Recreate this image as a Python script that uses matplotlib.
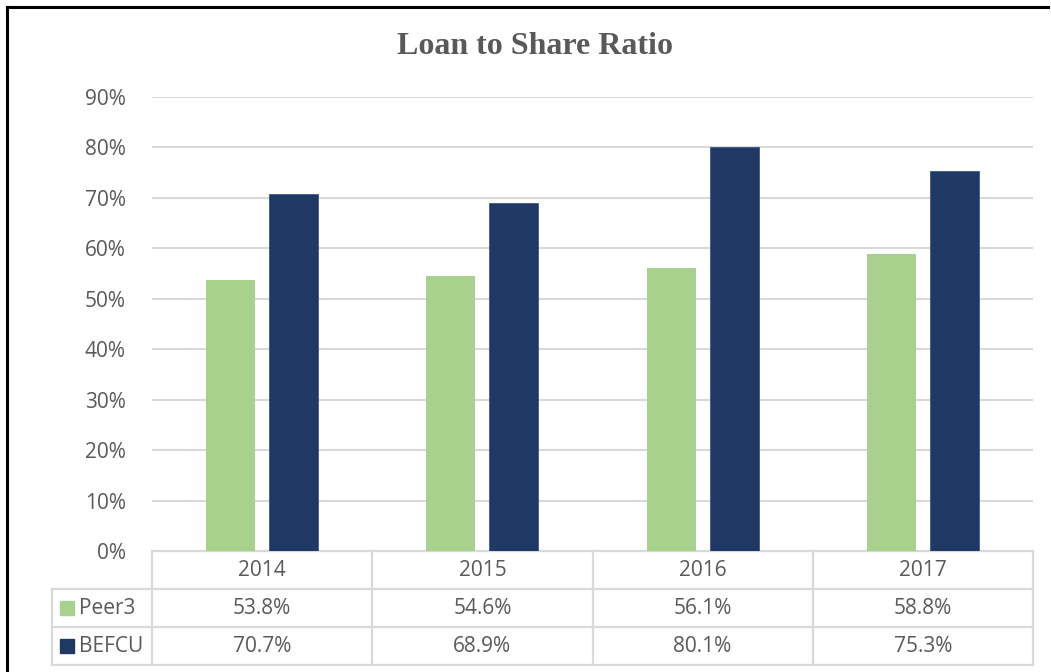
import matplotlib
matplotlib.use("Agg")
import matplotlib.pyplot as plt
from matplotlib.transforms import blended_transform_factory
from matplotlib.lines import Line2D
import numpy as np

years = ["2014", "2015", "2016", "2017"]
peer3 = [53.8, 54.6, 56.1, 58.8]
befcu = [70.7, 68.9, 80.1, 75.3]
series_names = ["Peer3", "BEFCU"]
yticks = [0, 10, 20, 30, 40, 50, 60, 70, 80, 90]

GREEN = "#A9D18E"
NAVY = "#203864"
TXT = "#595959"
GRID = "#D9D9D9"
FS = 15
FONT = "Open Sans"

W, H = 1051, 672
fig = plt.figure(figsize=(W / 100, H / 100), dpi=100)
fig.patch.set_facecolor("white")

left, right, bottom, top = 152, 1033, 551, 97
ax = fig.add_axes([left / W, (H - bottom) / H, (right - left) / W, (bottom - top) / H])

x = np.arange(len(years))
bw = 0.223
off = 0.143
ax.bar(x - off, peer3, bw, color=GREEN, zorder=3)
ax.bar(x + off, befcu, bw, color=NAVY, edgecolor="#3A5A8C", linewidth=0.6, zorder=3)

ax.set_xlim(-0.5, len(years) - 0.5)
ax.set_ylim(0, 90)
ax.set_yticks(yticks)
ax.set_yticklabels([f"{v}%" for v in yticks], fontsize=FS, color=TXT, family=FONT)
ax.tick_params(axis="y", length=0, pad=19)
ax.set_xticks([])
for s in ax.spines.values():
    s.set_visible(False)
ax.yaxis.grid(True, color=GRID, linewidth=1.5, zorder=0)
ax.set_axisbelow(True)

# Data table below the axes
ax_h = bottom - top
row_h = 38 / ax_h
tr = blended_transform_factory(ax.transData, ax.transAxes)
tra = ax.transAxes
lw = 1.6
legend_left = (52 - left) / (right - left)

def hline(x0, x1, y, trans):
    ax.add_line(Line2D([x0, x1], [y, y], transform=trans, color=GRID, lw=lw, clip_on=False))

hline(0, 1, 0, tra)
hline(legend_left, 1, -row_h, tra)
hline(legend_left, 1, -2 * row_h, tra)
hline(legend_left, 1, -3 * row_h, tra)
for b in np.arange(len(years) + 1) - 0.5:
    ax.add_line(Line2D([b, b], [0, -3 * row_h], transform=tr, color=GRID, lw=lw, clip_on=False))
ax.add_line(Line2D([legend_left, legend_left], [-row_h, -3 * row_h], transform=tra,
                   color=GRID, lw=lw, clip_on=False))

for i, yr in enumerate(years):
    ax.text(i, -0.5 * row_h, yr, transform=tr, ha="center", va="center",
            fontsize=FS, color=TXT, family=FONT)
for r, (name, vals, col) in enumerate(zip(series_names, [peer3, befcu], [GREEN, NAVY])):
    yc = -(1.5 + r) * row_h
    for i, v in enumerate(vals):
        ax.text(i, yc, f"{v:.1f}%", transform=tr, ha="center", va="center",
                fontsize=FS, color=TXT, family=FONT)
    sq_x = (67 - left) / (right - left)
    ax.plot([sq_x], [yc], transform=tra, marker="s", markersize=10.5, color=col,
            clip_on=False, linestyle="none")
    ax.text((79 - left) / (right - left), yc, name, transform=tra, ha="left", va="center",
            fontsize=FS, color=TXT, family=FONT)

fig.text(535 / W, 1 - 47 / H, "Loan to Share Ratio", ha="center", va="center",
         fontsize=23, fontweight="bold", color=TXT, family="Liberation Serif")

fig.add_artist(Line2D([7 / W, 7 / W], [0, 1 - 7 / H], transform=fig.transFigure, color="black", lw=2.2))
fig.add_artist(Line2D([7 / W, 1 - 3 / W], [1 - 7 / H, 1 - 7 / H], transform=fig.transFigure, color="black", lw=2.2))

fig.savefig("out.png", dpi=100, facecolor="white")
